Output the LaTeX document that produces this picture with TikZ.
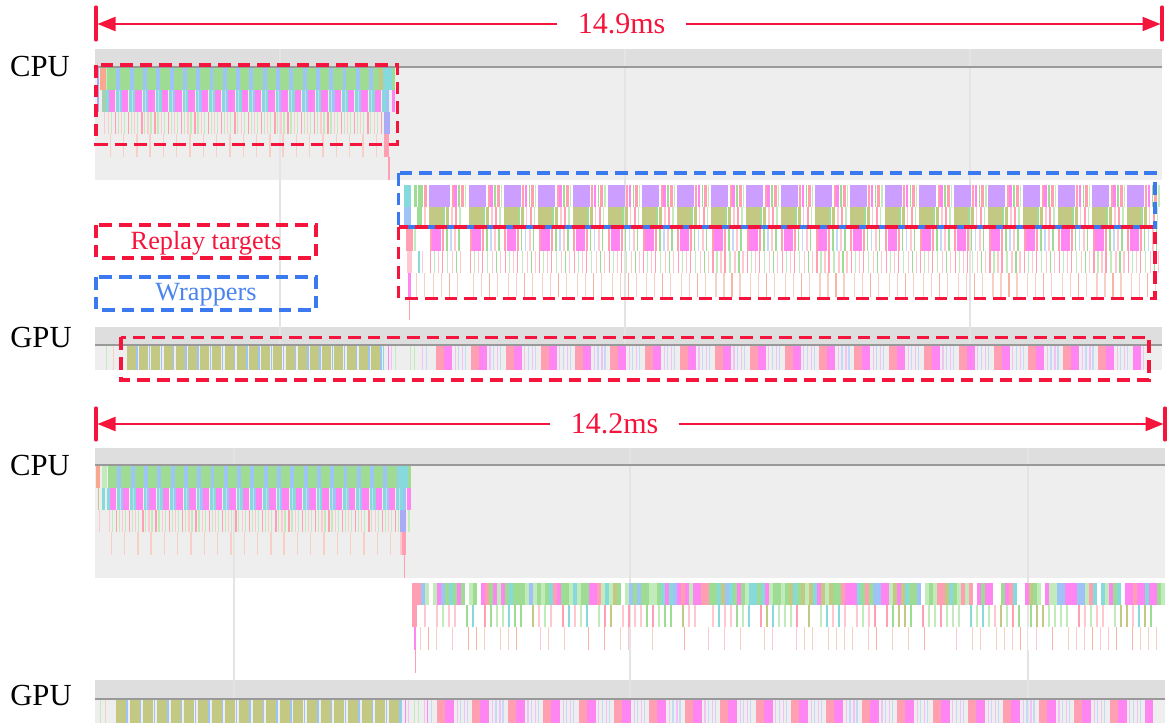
\documentclass[tikz,border=0pt]{standalone}
\usepackage{fontspec}
\setmainfont{Liberation Serif}
\usetikzlibrary{arrows.meta}
\definecolor{cgreen}{HTML}{9EDC94}
\definecolor{lgreen}{HTML}{C2EBBB}
\definecolor{cblue}{HTML}{9EC4F7}
\definecolor{lblue}{HTML}{C4DAF8}
\definecolor{cmag}{HTML}{FF85F2}
\definecolor{lmag}{HTML}{F2C2F5}
\definecolor{ccyan}{HTML}{86DADC}
\definecolor{cpink}{HTML}{FF9FB1}
\definecolor{lpink}{HTML}{FFC8D0}
\definecolor{csal}{HTML}{F7B4A2}
\definecolor{lsal}{HTML}{F8CFC4}
\definecolor{cpurp}{HTML}{CC9EFF}
\definecolor{colive}{HTML}{C3C882}
\definecolor{chead}{HTML}{DEDEDE}
\definecolor{carea}{HTML}{EEEEEE}
\definecolor{cline}{HTML}{999999}
\definecolor{cgrid}{HTML}{E4E4E4}
\definecolor{cred}{HTML}{F5143C}
\definecolor{cbluedash}{HTML}{3B79F0}
\definecolor{cbluetext}{HTML}{4A84F0}
\definecolor{cpeach}{HTML}{F8A88E}
\definecolor{cviolet}{HTML}{ABABF5}
\newcommand{\TrBlk}[5]{\fill[#1] (#2,#3) rectangle ++(#4,#5);}
\newcommand{\TrThreadOne}[3]{%
  \foreach \i in {0,...,#2}{%
    \pgfmathsetmacro\xa{#1+13.3*\i}%
    \ifodd\i \def\cc{cblue}\else\def\cc{ccyan}\fi
    \TrBlk{cgreen}{\xa}{#3}{9.4}{22}
    \TrBlk{cblue}{\xa+9.4}{#3}{3.9}{22}
    \TrBlk{\cc}{\xa-0.8}{#3+22}{2.3}{22}
    \TrBlk{cmag}{\xa+1.5}{#3+22}{6.5}{22}
    \TrBlk{ccyan}{\xa+9}{#3+22}{2.5}{22}
    \TrBlk{lblue}{\xa+11.5}{#3+22}{1.5}{22}
    \TrBlk{lpink}{\xa+0.5}{#3+44}{1.2}{22}
    \TrBlk{lgreen}{\xa+3.5}{#3+44}{1.2}{22}
    \TrBlk{cpink}{\xa+7.5}{#3+44}{1.4}{22}
    \TrBlk{lgreen}{\xa+10.5}{#3+44}{1.2}{22}
    \TrBlk{lsal}{\xa+2.5}{#3+66}{1.4}{23}
  }%
}
\begin{document}
\begin{tikzpicture}[x=0.75pt,y=-0.75pt,
  lab/.style={font=\fontsize{23}{27}\selectfont, inner sep=0pt},
  timelab/.style={font=\fontsize{22.5}{27}\selectfont, text=cred, inner xsep=15pt, inner ysep=0pt},
  leglab/.style={font=\fontsize{19.7}{24}\selectfont, inner sep=0pt},
  endbar/.style={draw=cred, line width=2.3pt, line cap=round},
  spanarrow/.style={draw=cred, line width=1.6pt, -{Triangle[length=13.5pt,width=10.5pt]}},
  redbox/.style={draw=cred, line width=2.3pt, dash pattern=on 9.5pt off 5.2pt},
  bluebox/.style={draw=cbluedash, line width=2.3pt, dash pattern=on 9.5pt off 5.2pt},
  gridline/.style={draw=cgrid, line width=0.8pt},
  trackline/.style={draw=cline, line width=1.3pt}]
\useasboundingbox[fill=white] (0,0) rectangle (1167,723);

% ---------- top section backgrounds ----------
\fill[chead] (95,49) rectangle (1162,66.5);
\fill[carea] (95,68) rectangle (1162,180);
\fill[chead] (95,327) rectangle (1162,344.5);
\fill[carea] (95,346) rectangle (1162,370);
\foreach \gx in {280,625,970}{\draw[gridline] (\gx,49) -- (\gx,370);}
\draw[trackline] (95,67.2) -- (1162,67.2);
\draw[trackline] (95,345.2) -- (1162,345.2);

% ---------- bottom section backgrounds ----------
\fill[chead] (95,448) rectangle (1165,464);
\fill[carea] (95,466) rectangle (1165,578);
\fill[chead] (95,680) rectangle (1165,698);
\fill[carea] (95,700) rectangle (1165,723);
\foreach \gx in {234,630,1028}{\draw[gridline] (\gx,448) -- (\gx,723);}
\draw[trackline] (95,465.2) -- (1165,465.2);
\draw[trackline] (95,699.2) -- (1165,699.2);

% ---------- top CPU thread 1 ----------
\TrBlk{cviolet}{97}{68}{2}{44}
\TrBlk{cpeach}{99.5}{68}{6.5}{22}
\TrBlk{lgreen}{106}{68}{1}{22}
\TrBlk{ccyan}{102}{90}{4}{22}
\TrBlk{colive}{103}{90}{1.5}{22}
\TrBlk{lpink}{104}{112}{1.2}{22}
\TrThreadOne{107}{20}{68}
\TrBlk{colive}{379}{68}{4}{22}
\TrBlk{ccyan}{383}{68}{9}{22}
\TrBlk{cgreen}{392}{68}{3}{22}
\TrBlk{ccyan}{383}{90}{3}{22}
\TrBlk{cblue}{386}{90}{3}{22}
\TrBlk{cmag}{392}{90}{3}{22}
\TrBlk{cviolet}{384}{112}{6}{22}
\TrBlk{cpink}{384}{134}{5}{23}
\TrBlk{cpink}{388}{157}{1.6}{23}

% ---------- top CPU thread 2 ----------
\TrBlk{ccyan}{404}{185}{7}{22}
\TrBlk{cblue}{404}{207}{7}{22}
\TrBlk{cpink}{406}{229}{7}{22}
\TrBlk{lpink}{407}{251}{5}{22}
\TrBlk{cmag}{408}{273}{2.5}{24}
\TrBlk{cpink}{408.5}{297}{1.5}{23}
\TrBlk{cgreen}{414}{185}{3}{22}
\TrBlk{cgreen}{418}{185}{5}{22}
\TrBlk{cpink}{424}{185}{3}{22}
\TrBlk{cgreen}{417}{207}{5}{22}
\TrBlk{lpink}{424}{207}{2}{22}
\TrBlk{lgreen}{414}{229}{1.5}{22}
\TrBlk{ccyan}{418}{251}{2}{22}
\TrBlk{lpink}{422}{251}{1.2}{22}
\TrBlk{lsal}{416}{273}{1.2}{24}
\TrBlk{lsal}{424}{273}{1.2}{24}
\foreach \i in {0,...,20}{%
  \ifnum\i=0 \def\xa{429}\def\pw{21}\else
    \pgfmathsetmacro\xa{469+34.63*(\i-1)}\def\pw{17}\fi
  \TrBlk{cpurp}{\xa}{185}{\pw}{22}
  \TrBlk{cpink}{\xa+\pw+1.5}{185}{2}{22}
  \TrBlk{cmag}{\xa+\pw+4}{185}{2.5}{22}
  \TrBlk{cgreen}{\xa+\pw+8}{185}{1.5}{22}
  \TrBlk{cpink}{\xa+\pw+10.5}{185}{3}{22}
  \TrBlk{lgreen}{\xa+\pw+14.5}{185}{1.2}{22}
  \TrBlk{colive}{\xa}{207}{14}{22}
  \TrBlk{cgreen}{\xa+14}{207}{2}{22}
  \TrBlk{colive}{\xa+17}{207}{3}{22}
  \TrBlk{lpink}{\xa+22}{207}{1.5}{22}
  \TrBlk{cpink}{\xa+26}{207}{2}{22}
  \TrBlk{lgreen}{\xa+30}{207}{1.5}{22}
  \TrBlk{cpink}{\xa+0.5}{229}{2}{22}
  \TrBlk{cmag}{\xa+3}{229}{9}{22}
  \TrBlk{cpink}{\xa+13}{229}{2}{22}
  \TrBlk{cgreen}{\xa+17}{229}{1.5}{22}
  \TrBlk{lblue}{\xa+21}{229}{1.5}{22}
  \TrBlk{lpink}{\xa+25}{229}{2}{22}
  \TrBlk{cgreen}{\xa+29}{229}{1.5}{22}
  \TrBlk{cpink}{\xa+1}{251}{1.2}{22}
  \TrBlk{lgreen}{\xa+5}{251}{1.2}{22}
  \TrBlk{lpink}{\xa+9}{251}{1.2}{22}
  \TrBlk{cpink}{\xa+13}{251}{1.2}{22}
  \TrBlk{lgreen}{\xa+18}{251}{1.2}{22}
  \TrBlk{lpink}{\xa+23}{251}{1.2}{22}
  \TrBlk{cgreen}{\xa+27}{251}{1.2}{22}
  \TrBlk{lpink}{\xa+31}{251}{1.2}{22}
  \TrBlk{lsal}{\xa+4}{273}{1.2}{24}
  \TrBlk{lsal}{\xa+12}{273}{1.2}{24}
  \TrBlk{csal}{\xa+20}{273}{1.2}{24}
  \TrBlk{lsal}{\xa+28}{273}{1.2}{24}
}

% ---------- top GPU ----------
\TrBlk{lgreen}{106}{346}{1.2}{24}
\TrBlk{lsal}{113}{346}{1.2}{24}
\foreach \i in {0,...,20}{%
  \pgfmathsetmacro\xa{127+12.2*\i}%
  \TrBlk{colive}{\xa}{346}{9}{24}
  \TrBlk{cblue}{\xa+9.3}{346}{1.4}{24}
}
\foreach \lx/\lc in {383/ccyan,388/cmag,391/lmag,395/lgreen,410/lgreen,414/lgreen,422/lmag,426/lblue}{%
  \TrBlk{\lc}{\lx}{346}{1.3}{24}}
\foreach \i in {0,...,20}{%
  \pgfmathsetmacro\xa{436+34.85*\i}%
  \ifnum\i<20
    \TrBlk{cpink}{\xa}{346}{8}{24}
    \TrBlk{cmag}{\xa+8}{346}{8}{24}
    \TrBlk{lmag}{\xa+18.5}{346}{1.2}{24}
    \TrBlk{lblue}{\xa+22}{346}{1.2}{24}
    \TrBlk{lmag}{\xa+26}{346}{1.2}{24}
    \TrBlk{lblue}{\xa+29}{346}{1.2}{24}
  \else
    \TrBlk{cmag}{\xa}{346}{8}{24}
    \TrBlk{lmag}{\xa+10}{346}{1.2}{24}
  \fi
}

% ---------- bottom CPU thread 1 ----------
\TrBlk{cpeach}{96}{466}{4}{22}
\TrBlk{lgreen}{102}{466}{5}{22}
\TrBlk{colive}{97.5}{488}{1.5}{22}
\TrBlk{ccyan}{102}{488}{3}{22}
\TrBlk{lpink}{99}{510}{1.2}{22}
\TrThreadOne{108}{21}{466}
\TrBlk{ccyan}{398}{466}{10}{22}
\TrBlk{cgreen}{408}{466}{3}{22}
\TrBlk{ccyan}{400}{488}{3}{22}
\TrBlk{cblue}{403}{488}{3}{22}
\TrBlk{cmag}{407}{488}{4}{22}
\TrBlk{cviolet}{400}{510}{6}{22}
\TrBlk{lgreen}{408}{510}{1.5}{22}
\TrBlk{cpink}{402}{532}{4}{23}
\TrBlk{lpink}{400}{532}{1.5}{23}
\TrBlk{cpink}{403.5}{555}{1.5}{23}

% ---------- bottom CPU thread 2 ----------
\TrBlk{cpink}{412}{583}{5}{44}
\TrBlk{cmag}{414}{627}{1.6}{23}
\TrBlk{cpink}{414.5}{650}{1.2}{23}
\pgfmathsetseed{4242}
\pgfmathdeclarerandomlist{rowA}{{cgreen}{cgreen}{cgreen}{lgreen}{cmag}{cmag}{cpink}{colive}{cblue}{ccyan}{lgreen}{white}}
\pgfmathdeclarerandomlist{rowB}{{lpink}{lgreen}{cgreen}{lpink}{colive}{white}{cpink}{lgreen}{ccyan}{white}}
\pgfmathdeclarerandomlist{rowC}{{lsal}{lsal}{white}{csal}{lpink}{white}}
\foreach \i in {0,...,186}{%
  \pgfmathsetmacro\xa{417+4*\i}%
  \pgfmathrandomitem{\cl}{rowA}%
  \TrBlk{\cl}{\xa}{583}{3.6}{22}
}
\foreach \i in {0,...,124}{%
  \pgfmathsetmacro\xa{418+6*\i}%
  \pgfmathrandomitem{\cl}{rowB}%
  \TrBlk{\cl}{\xa}{605}{1.7}{22}
}
\foreach \i in {0,...,92}{%
  \pgfmathsetmacro\xa{420+8*\i}%
  \pgfmathrandomitem{\cl}{rowC}%
  \TrBlk{\cl}{\xa}{627}{1.3}{23}
}

% ---------- bottom GPU ----------
\TrBlk{lgreen}{99.5}{700}{1.2}{23}
\TrBlk{lsal}{105}{700}{1.2}{23}
\foreach \i in {0,...,20}{%
  \pgfmathsetmacro\xa{116+13.65*\i}%
  \TrBlk{colive}{\xa}{700}{10}{23}
  \TrBlk{cblue}{\xa+10.3}{700}{1.4}{23}
}
\foreach \lx/\lc in {401/ccyan,405/cmag,408/lmag,414/lgreen,418/lgreen,424/lmag,427/cmag,431/lblue}{%
  \TrBlk{\lc}{\lx}{700}{1.3}{23}}
\foreach \i in {0,...,20}{%
  \pgfmathsetmacro\xa{437+35.4*\i}%
  \ifnum\i<20
    \TrBlk{cpink}{\xa}{700}{8}{23}
    \TrBlk{cmag}{\xa+8}{700}{9}{23}
    \TrBlk{lmag}{\xa+19.5}{700}{1.2}{23}
    \TrBlk{lblue}{\xa+23}{700}{1.2}{23}
    \TrBlk{lmag}{\xa+27}{700}{1.2}{23}
    \TrBlk{lblue}{\xa+30}{700}{1.2}{23}
  \else
    \TrBlk{cmag}{\xa}{700}{8}{23}
  \fi
}

% ---------- highlight boxes ----------
\draw[redbox] (96,65) rectangle (397.5,144.5);
\draw[bluebox] (398.5,173) rectangle (1155,227);
\draw[redbox] (398.5,227) rectangle (1155,298.5);
\draw[redbox] (121,337.5) rectangle (1149,380);
\draw[redbox] (96,225) rectangle (316,258);
\draw[bluebox] (96,277) rectangle (316,310);
\node[leglab, text=cred] (legred) at (206,243) {Replay targets};
\node[leglab, text=cbluetext] (legblue) at (206,295) {Wrappers};

% ---------- labels ----------
\node[lab, anchor=base] (cpuA) at (40,77) {CPU};
\node[lab, anchor=base] (gpuA) at (41,348) {GPU};
\node[lab, anchor=base] (cpuB) at (40,475) {CPU};
\node[lab, anchor=base] (gpuB) at (41,705) {GPU};

% ---------- span arrows ----------
\coordinate (topLa) at (96,7);
\coordinate (topLb) at (96,40);
\coordinate (topRa) at (1162,7);
\coordinate (topRb) at (1162,40);
\coordinate (topL) at (97.5,24);
\coordinate (topR) at (1160.5,24);
\draw[endbar] (topLa) -- (topLb);
\draw[endbar] (topRa) -- (topRb);
\node[timelab] (tA) at (621.5,24) {14.9ms};
\draw[spanarrow] (tA.west) -- (topL);
\draw[spanarrow] (tA.east) -- (topR);

\coordinate (botLa) at (96,408);
\coordinate (botLb) at (96,440);
\coordinate (botRa) at (1165,408);
\coordinate (botRb) at (1165,440);
\coordinate (botL) at (97.5,424);
\coordinate (botR) at (1163.5,424);
\draw[endbar] (botLa) -- (botLb);
\draw[endbar] (botRa) -- (botRb);
\node[timelab] (tB) at (614.5,424) {14.2ms};
\draw[spanarrow] (tB.west) -- (botL);
\draw[spanarrow] (tB.east) -- (botR);
\end{tikzpicture}
\end{document}
